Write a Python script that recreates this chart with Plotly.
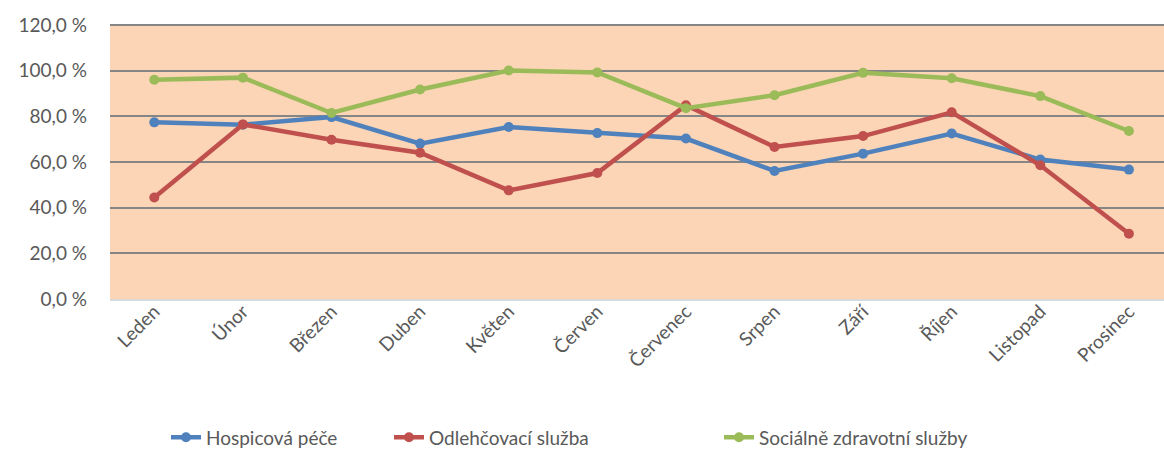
import plotly.graph_objects as go

months = ["Leden", "Únor", "Březen", "Duben", "Květen", "Červen", "Červenec",
          "Srpen", "Září", "Říjen", "Listopad", "Prosinec"]
hospicova = [77.4, 76.4, 79.7, 68.1, 75.4, 72.7, 70.3, 56.1, 63.7, 72.5, 61.1, 56.7]
odlehcovaci = [44.5, 76.5, 69.8, 64.1, 47.6, 55.2, 84.9, 66.6, 71.4, 81.8, 58.6, 28.6]
socialne = [96.1, 97.0, 81.5, 91.8, 100.1, 99.3, 83.6, 89.3, 99.1, 96.7, 88.9, 73.6]
series_names = ["Hospicová péče", "Odlehčovací služba", "Sociálně zdravotní služby"]
colors = ["#4F81BD", "#C0504D", "#9BBB59"]
y_ticks = [0, 20, 40, 60, 80, 100, 120]
y_tick_labels = ["0,0 %", "20,0 %", "40,0 %", "60,0 %", "80,0 %", "100,0 %", "120,0 %"]

FONT = "Lato"
L, W = 110, 1054
legend_px = [166, 389, 719]  # left edge of each legend box (px)

fig = go.Figure()
legend_ids = ["legend", "legend2", "legend3"]
for name, vals, c, lid in zip(series_names, [hospicova, odlehcovaci, socialne], colors, legend_ids):
    fig.add_trace(go.Scatter(
        x=months, y=vals, name=name, mode="lines+markers",
        line=dict(color=c, width=4.5),
        marker=dict(color=c, size=10),
        legend=lid,
    ))

leg_common = dict(orientation="h", xanchor="left", y=0.03, yanchor="middle",
                  yref="container", font=dict(size=19, color="#595959"),
                  bgcolor="rgba(0,0,0,0)")
legends = {}
for lid, px in zip(legend_ids, legend_px):
    legends[lid] = dict(leg_common, x=(px - L) / W)

fig.update_layout(
    width=1164, height=451,
    margin=dict(l=L, r=0, t=24, b=152),
    paper_bgcolor="white",
    plot_bgcolor="#FBD5B5",
    font=dict(family=FONT, size=19, color="#595959"),
    showlegend=True,
    **legends,
    xaxis=dict(
        type="category", range=[-0.5, 11.396], tickangle=-45,
        showgrid=False, showline=True, linecolor="#D9D9D9", linewidth=2,
        ticks="", tickfont=dict(size=19, color="#595959"), ticklabelstandoff=-8,
    ),
    yaxis=dict(
        range=[0, 120.5], tickvals=y_ticks, ticktext=y_tick_labels,
        showgrid=True, gridcolor="#868686", gridwidth=2,
        zeroline=False, showline=False, ticks="", ticklabelstandoff=22,
        tickfont=dict(size=19, color="#595959"),
    ),
)
fig.write_html("out.html", config={"displayModeBar": False},
               post_script="document.body.style.margin='0';document.body.style.overflow='hidden';")
